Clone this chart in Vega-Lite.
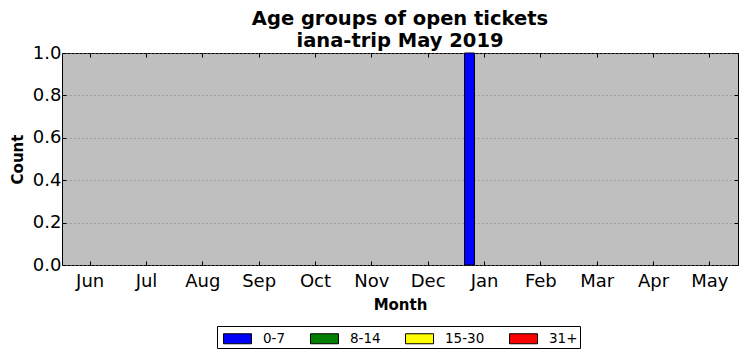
{
  "$schema": "https://vega.github.io/schema/vega-lite/v6.json",
  "autosize": {"type": "none"},
  "padding": {"left": 62, "top": 53, "right": 9, "bottom": 96},
  "width": 676,
  "height": 212,
  "background": "white",
  "title": {
    "text": ["Age groups of open tickets", "iana-trip May 2019"],
    "font": "DejaVu Sans",
    "fontSize": 19.5,
    "fontWeight": "bold",
    "color": "black",
    "anchor": "middle",
    "offset": -7,
    "lineHeight": 22
  },
  "config": {
    "view": {"fill": "#bfbfbf", "stroke": "black", "strokeWidth": 1},
    "axis": {
      "labelFont": "DejaVu Sans",
      "labelFontSize": 18,
      "labelColor": "black",
      "titleFont": "DejaVu Sans",
      "titleFontSize": 15,
      "titleFontWeight": "bold",
      "titleColor": "black",
      "domain": false,
      "tickColor": "black",
      "tickSize": -4
    }
  },
  "data": {
    "values": [
      {"month": "Jun", "group": "0-7", "count": 0},
      {"month": "Jul", "group": "0-7", "count": 0},
      {"month": "Aug", "group": "0-7", "count": 0},
      {"month": "Sep", "group": "0-7", "count": 0},
      {"month": "Oct", "group": "0-7", "count": 0},
      {"month": "Nov", "group": "0-7", "count": 0},
      {"month": "Dec", "group": "0-7", "count": 0},
      {"month": "Jan", "group": "0-7", "count": 1},
      {"month": "Feb", "group": "0-7", "count": 0},
      {"month": "Mar", "group": "0-7", "count": 0},
      {"month": "Apr", "group": "0-7", "count": 0},
      {"month": "May", "group": "0-7", "count": 0},
      {"month": "Jan", "group": "8-14", "count": 0},
      {"month": "Jan", "group": "15-30", "count": 0},
      {"month": "Jan", "group": "31+", "count": 0}
    ]
  },
  "layer": [
    {
      "mark": {"type": "bar", "stroke": "black"},
      "encoding": {
        "x": {
          "field": "month",
          "type": "ordinal",
          "sort": ["Jun", "Jul", "Aug", "Sep", "Oct", "Nov", "Dec", "Jan", "Feb", "Mar", "Apr", "May"],
          "scale": {"domain": ["Jun", "Jul", "Aug", "Sep", "Oct", "Nov", "Dec", "Jan", "Feb", "Mar", "Apr", "May"], "paddingInner": 0, "paddingOuter": 0},
          "axis": {"title": "Month", "labelAngle": 0, "labelPadding": 11, "titlePadding": 7, "grid": false}
        },
        "xOffset": {
          "field": "group",
          "type": "nominal",
          "scale": {"domain": ["0-7", "8-14", "15-30", "31+"], "paddingInner": 0, "paddingOuter": 0.82}
        },
        "y": {
          "field": "count",
          "type": "quantitative",
          "scale": {"domain": [0, 1], "nice": false},
          "axis": {
            "title": "Count",
            "values": [0, 0.2, 0.4, 0.6, 0.8, 1.0],
            "format": ".1f",
            "labelPadding": 5,
            "titlePadding": 7,
            "grid": true,
            "gridColor": "#808080",
            "gridDash": [1, 3],
            "gridWidth": 1
          }
        },
        "strokeWidth": {"condition": {"test": "datum.count == 0", "value": 0}, "value": 1},
        "fill": {
          "field": "group",
          "type": "nominal",
          "scale": {"domain": ["0-7", "8-14", "15-30", "31+"], "range": ["#0000ff", "#008000", "#ffff00", "#ff0000"]},
          "legend": {
            "title": null,
            "orient": "none",
            "direction": "horizontal",
            "columns": 4,
            "legendX": 155,
            "legendY": 273,
            "strokeColor": "black",
            "fillColor": "white",
            "padding": 2,
            "columnPadding": 20,
            "labelFont": "DejaVu Sans",
            "labelFontSize": 13.5,
            "labelColor": "black",
            "labelOffset": 23,
            "symbolType": "M-0.6,-0.5L2.2,-0.5L2.2,0.5L-0.6,0.5Z",
            "symbolSize": 400,
            "symbolStrokeColor": "black",
            "symbolStrokeWidth": 1,
            "symbolOpacity": 1
          }
        }
      }
    },
    {
      "mark": {"type": "tick", "opacity": 0},
      "encoding": {
        "x": {
          "field": "month",
          "type": "ordinal",
          "sort": ["Jun", "Jul", "Aug", "Sep", "Oct", "Nov", "Dec", "Jan", "Feb", "Mar", "Apr", "May"],
          "axis": {"orient": "top", "labels": false, "title": null, "grid": false}
        },
        "y": {
          "field": "count",
          "type": "quantitative",
          "axis": {"orient": "right", "labels": false, "title": null, "grid": false, "values": [0, 0.2, 0.4, 0.6, 0.8, 1.0]}
        }
      }
    }
  ],
  "resolve": {"axis": {"x": "independent", "y": "independent"}}
}
